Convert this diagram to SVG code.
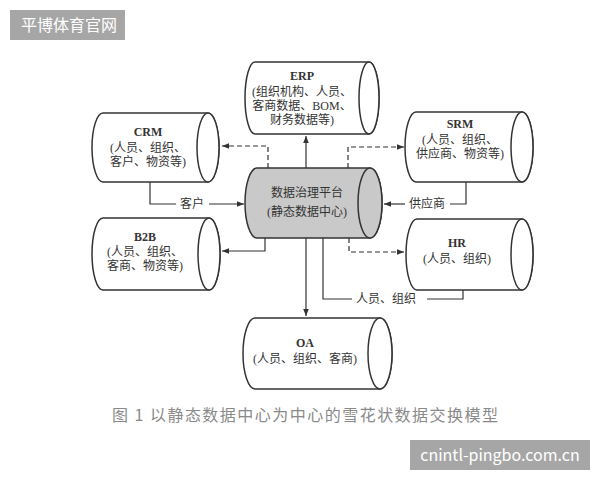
<svg xmlns="http://www.w3.org/2000/svg" width="600" height="480" viewBox="0 0 600 480">
<style>
.cyl{fill:#fff;stroke:#333;stroke-width:1.5}
.hub{fill:#c9c9c9;stroke:#333;stroke-width:1.5}
.t{font-family:"Liberation Serif","Noto Sans CJK SC",serif;font-size:12px;fill:#333;text-anchor:middle}
.b{font-weight:bold}
.ln{fill:none;stroke:#333;stroke-width:1.2}
.dash{stroke-dasharray:5 3}
.wm{font-family:"Noto Sans CJK SC","Liberation Sans",sans-serif;font-size:16px;fill:#fff}
.cap{font-family:"Noto Sans CJK SC","Liberation Sans",sans-serif;font-size:16px;fill:#8a8a8a}
</style>
<defs>
<marker id="ah" viewBox="0 0 10 10" refX="10" refY="5" markerWidth="7" markerHeight="7" markerUnits="userSpaceOnUse" orient="auto">
<path d="M0,1 L10,5 L0,9 Z" fill="#333"/>
</marker>
</defs>
<rect width="600" height="480" fill="#fff"/>

<g id="watermark-top">
<rect x="10" y="10" width="115" height="30" fill="#a6a6a6"/>
<text x="21" y="31" class="wm">平博体育官网</text>
</g>

<g id="connectors">
<path class="ln dash" d="M268,168 V146 H222" marker-end="url(#ah)"/>
<path class="ln" d="M306,168 V136" marker-end="url(#ah)"/>
<path class="ln dash" d="M348,168 V147 H404" marker-end="url(#ah)"/>
<path class="ln" d="M150,182 V204 H176"/>
<path class="ln" d="M209,204 H244" marker-end="url(#ah)"/>
<text x="192" y="208" class="t">客户</text>
<path class="ln" d="M466,182 V204 H450"/>
<path class="ln" d="M405,204 H384" marker-end="url(#ah)"/>
<text x="427" y="208" class="t">供应商</text>
<path class="ln" d="M265,238 V251 H222" marker-end="url(#ah)"/>
<path class="ln dash" d="M349,238 V252 H404" marker-end="url(#ah)"/>
<path class="ln" d="M306,238 V316" marker-end="url(#ah)"/>
<path class="ln" d="M463,290 V299 H427"/>
<path class="ln" d="M352,299 H323 V238"/>
<text x="386" y="303" class="t">人员、组织</text>
</g>

<g id="erp">
<path class="cyl" d="M255,62 H369 A10,36 0 0 1 369,134 H255 A10,36 0 0 1 255,62 Z"/>
<ellipse class="cyl" cx="369" cy="98" rx="10" ry="36"/>
<text x="302" y="80" class="t b">ERP</text>
<text x="302" y="96" class="t">(组织机构、人员、</text>
<text x="302" y="110" class="t">客商数据、BOM、</text>
<text x="302" y="124" class="t">财务数据等)</text>
</g>

<g id="crm">
<path class="cyl" d="M103,113 H208 A11,34.5 0 0 1 208,182 H103 A11,34.5 0 0 1 103,113 Z"/>
<ellipse class="cyl" cx="208" cy="147.5" rx="11" ry="34.5"/>
<text x="148" y="136" class="t b">CRM</text>
<text x="148" y="152" class="t">(人员、组织、</text>
<text x="148" y="166" class="t">客户、物资等)</text>
</g>

<g id="srm">
<path class="cyl" d="M416,112 H522 A11,35 0 0 1 522,182 H416 A11,35 0 0 1 416,112 Z"/>
<ellipse class="cyl" cx="522" cy="147" rx="11" ry="35"/>
<text x="460" y="128" class="t b">SRM</text>
<text x="460" y="144" class="t">(人员、组织、</text>
<text x="460" y="158" class="t">供应商、物资等)</text>
</g>

<g id="hub">
<path class="hub" d="M257,168 H370 A12,35 0 0 1 370,238 H257 A12,35 0 0 1 257,168 Z"/>
<ellipse class="hub" cx="370" cy="203" rx="12" ry="35"/>
<text x="307" y="197" class="t">数据治理平台</text>
<text x="307" y="216" class="t">(静态数据中心)</text>
</g>

<g id="b2b">
<path class="cyl" d="M103,218 H209 A11,36 0 0 1 209,290 H103 A11,36 0 0 1 103,218 Z"/>
<ellipse class="cyl" cx="209" cy="254" rx="11" ry="36"/>
<text x="145" y="241" class="t b">B2B</text>
<text x="145" y="256" class="t">(人员、组织、</text>
<text x="145" y="270" class="t">客商、物资等)</text>
</g>

<g id="hr">
<path class="cyl" d="M417,219 H522 A11,35.5 0 0 1 522,290 H417 A11,35.5 0 0 1 417,219 Z"/>
<ellipse class="cyl" cx="522" cy="254.5" rx="11" ry="35.5"/>
<text x="457" y="247" class="t b">HR</text>
<text x="457" y="263" class="t">(人员、组织)</text>
</g>

<g id="oa">
<path class="cyl" d="M255,318 H380 A12,35.5 0 0 1 380,389 H255 A12,35.5 0 0 1 255,318 Z"/>
<ellipse class="cyl" cx="380" cy="353.5" rx="12" ry="35.5"/>
<text x="305" y="347" class="t b">OA</text>
<text x="305" y="363" class="t">(人员、组织、客商)</text>
</g>

<g id="caption">
<text x="112" y="421" class="cap" textLength="386" lengthAdjust="spacing">图 1 以静态数据中心为中心的雪花状数据交换模型</text>
</g>

<g id="watermark-bottom">
<rect x="410" y="440" width="180" height="30" fill="#a6a6a6"/>
<text x="500" y="461" class="wm" text-anchor="middle">cnintl-pingbo.com.cn</text>
</g>
</svg>
